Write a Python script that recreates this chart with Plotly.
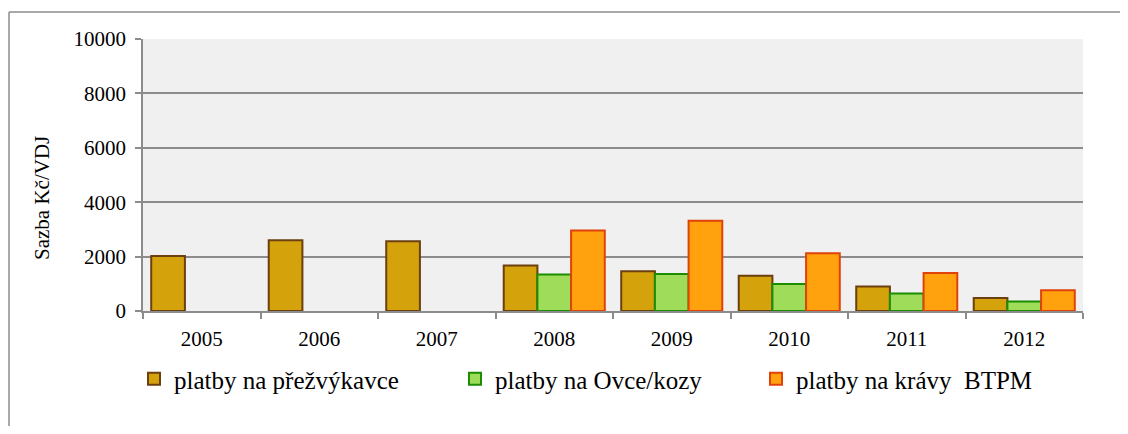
import plotly.graph_objects as go

years = ["2005", "2006", "2007", "2008", "2009", "2010", "2011", "2012"]
prezvykavci = [2020, 2600, 2560, 1670, 1460, 1300, 900, 475]
ovce_kozy = [None, None, None, 1340, 1360, 990, 640, 350]
kravy_btpm = [None, None, None, 2960, 3320, 2125, 1400, 760]

FONT = "Liberation Serif, Times New Roman, serif"

# page has an 8px body margin; keep the figure inside the window (no scrollbars)
OFF = 8
W, H = 1128 - OFF, 434 - 2 * OFF
# plot area in page pixels (as measured on the reference)
P_L, P_R, P_T, P_B = 143, 1083, 39, 311
L, R, T, B = P_L - OFF, W - (P_R - OFF), P_T - OFF, H - (P_B - OFF)
pw, ph = P_R - P_L, P_B - P_T


def px_x(x):
    return (x - P_L) / pw


def px_y(y):
    return (P_B - y) / ph


fig = go.Figure()

fig.add_trace(
    go.Bar(
        x=years,
        y=prezvykavci,
        name="platby na přežvýkavce",
        marker=dict(color="#D4A20B", line=dict(color="#6B3F10", width=2)),
        legend="legend",
        showlegend=True,
    )
)
fig.add_trace(
    go.Bar(
        x=years,
        y=ovce_kozy,
        name="platby na Ovce/kozy",
        marker=dict(color="#9EDC5A", line=dict(color="#1C8C00", width=2)),
        legend="legend2",
        showlegend=True,
    )
)
fig.add_trace(
    go.Bar(
        x=years,
        y=kravy_btpm,
        name="platby na krávy  BTPM",
        marker=dict(color="#FFA20E", line=dict(color="#E0420A", width=2)),
        legend="legend3",
        showlegend=True,
    )
)

legend_common = dict(
    orientation="h",
    xanchor="left",
    yanchor="middle",
    bgcolor="rgba(0,0,0,0)",
    font=dict(family=FONT, size=25, color="black"),
)

fig.update_layout(
    width=W,
    height=H,
    margin=dict(l=L, r=R, t=T, b=B),
    paper_bgcolor="white",
    plot_bgcolor="#F0F0F0",
    font=dict(family=FONT, size=21, color="black"),
    barmode="group",
    bargap=0.14,
    bargroupgap=0,
    legend=dict(x=px_x(134), y=px_y(379), **legend_common),
    legend2=dict(x=px_x(455), y=px_y(379), **legend_common),
    legend3=dict(x=px_x(756), y=px_y(379), **legend_common),
    xaxis=dict(
        type="category",
        showline=True,
        linecolor="#8C8C8C",
        linewidth=1.5,
        ticks="outside",
        tickson="boundaries",
        ticklen=6,
        tickcolor="#8C8C8C",
        tickwidth=1.5,
        showgrid=False,
        ticklabelstandoff=8,
        tickfont=dict(family=FONT, size=21, color="black"),
    ),
    yaxis=dict(
        range=[0, 10000],
        dtick=2000,
        tickformat="d",
        showline=True,
        linecolor="#8C8C8C",
        linewidth=1.5,
        ticks="outside",
        ticklen=6,
        tickcolor="#8C8C8C",
        tickwidth=1.5,
        showgrid=True,
        gridcolor="#8C8C8C",
        gridwidth=1.5,
        zeroline=False,
        ticklabelstandoff=5,
        tickfont=dict(family=FONT, size=21, color="black"),
    ),
    annotations=[
        dict(
            text="Sazba Kč/VDJ",
            textangle=-90,
            xref="paper",
            yref="paper",
            x=px_x(42),
            y=px_y(198),
            xanchor="center",
            yanchor="middle",
            showarrow=False,
            font=dict(family=FONT, size=21, color="black"),
        )
    ],
    shapes=[
        # outer chart frame: only its top and left edges fall inside the picture
        dict(
            type="line",
            xref="paper",
            yref="paper",
            x0=px_x(9),
            x1=px_x(1200),
            y0=px_y(12),
            y1=px_y(12),
            line=dict(color="#8C8C8C", width=1.5),
        ),
        dict(
            type="line",
            xref="paper",
            yref="paper",
            x0=px_x(9),
            x1=px_x(9),
            y0=px_y(12),
            y1=px_y(500),
            line=dict(color="#8C8C8C", width=1.5),
        ),
    ],
)

fig.write_html("out.html", config={"displayModeBar": False})
